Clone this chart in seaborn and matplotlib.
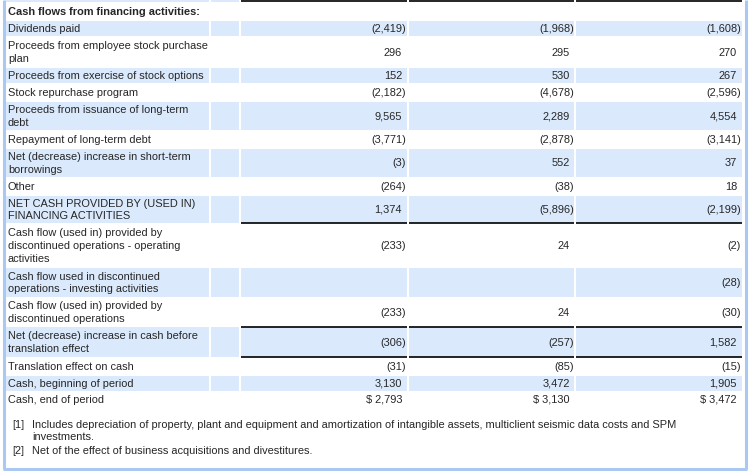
import numpy as np
import matplotlib
matplotlib.use("Agg")
import matplotlib.pyplot as plt
import seaborn as sns

# Satır etiketləri
labels = [
    "Dividends paid",
    "Proceeds from employee stock purchase\nplan",
    "Proceeds from exercise of stock options",
    "Stock repurchase program",
    "Proceeds from issuance of long-term\ndebt",
    "Repayment of long-term debt",
    "Net (decrease) increase in short-term\nborrowings",
    "Other",
    "NET CASH PROVIDED BY (USED IN)\nFINANCING ACTIVITIES",
    "Cash flow (used in) provided by\ndiscontinued operations - operating\nactivities",
    "Cash flow used in discontinued\noperations - investing activities",
    "Cash flow (used in) provided by\ndiscontinued operations",
    "Net (decrease) increase in cash before\ntranslation effect",
    "Translation effect on cash",
    "Cash, beginning of period",
    "Cash, end of period",
]

# Üç ilin dəyərləri
col1 = [-2419, 296, 152, -2182, 9565, -3771, -3, -264, 1374, -233, None, -233, -306, -31, 3130, 2793]
col2 = [-1968, 295, 530, -4678, 2289, -2878, 552, -38, -5896, 24, None, 24, -257, -85, 3472, 3130]
col3 = [-1608, 270, 267, -2596, 4554, -3141, 37, 18, -2199, -2, -28, -30, 1582, -15, 1905, 3472]

header = "Cash flows from financing activities:"
footnote_marks = ["[1]", "[2]"]
footnote_texts = [
    "Includes depreciation of property, plant and equipment and amortization of intangible assets, multiclient seismic data costs and SPM\ninvestments.",
    "Net of the effect of business acquisitions and divestitures.",
]

# Sətir sərhədləri (piksel)
row_edges = [21, 36, 68, 83, 102, 130, 149, 177, 196, 223, 268, 297, 327, 357, 376, 391, 408]
# Sütun sərhədləri
col_edges = [(6, 209), (211, 239), (241, 407), (409, 574), (576, 742)]
num_right = [402, 570, 737]
underline_after = [8, 11, 12]

blue = "#daeafc"
border = "#abc8f3"

sns.set_theme(style="white")
plt.rcParams["font.family"] = ["Liberation Sans", "DejaVu Sans"]

fig = plt.figure(figsize=(7.5, 4.74), dpi=100)
ax = fig.add_axes([0, 0, 1, 1])
ax.set_xlim(0, 750)
ax.set_ylim(474, 0)
ax.axis("off")


def fmt(v, last=False):
    if v is None:
        return ""
    s = f"({abs(v):,})" if v < 0 else f"{v:,}"
    if last:
        s = "$ " + s
    return s


fs = 7.9
ls = 1.36
tops = np.array(row_edges[:-1])
bottoms = np.array(row_edges[1:])
centers = (tops + bottoms) / 2
heights = bottoms - tops

# Mavi zolaqlar
for i in range(len(labels)):
    if i % 2 == 0:
        for (x0, x1) in col_edges:
            ax.barh(centers[i], x1 - x0, left=x0, height=heights[i], color=blue, linewidth=0)

# Yuxarıdakı kəsilmiş sətir
for (x0, x1) in col_edges[:2]:
    ax.barh(1, x1 - x0, left=x0, height=2.5, color=blue, linewidth=0)

ax.text(8, 12, header, fontsize=fs, fontweight="bold", va="center", ha="left")

cols = [col1, col2, col3]
for i, lab in enumerate(labels):
    ax.text(8, centers[i] + 0.5, lab, fontsize=fs, va="center", ha="left", linespacing=ls)
    for j, col in enumerate(cols):
        v = col[i]
        s = fmt(v, last=(i == len(labels) - 1))
        x = num_right[j] + (4 if (v is not None and v < 0) else 0)
        ax.text(x, centers[i] + 0.5, s, fontsize=fs, va="center", ha="right")

# Alt xətlər
for y in [1] + [bottoms[k] for k in underline_after]:
    for (x0, x1) in col_edges[2:]:
        ax.plot([x0, x1], [y, y], color="black", lw=1.2, solid_capstyle="butt")

# Qeydlər
for mark, txt, y in zip(footnote_marks, footnote_texts, [419.5, 445.5]):
    ax.text(12, y, mark, fontsize=fs, va="top", ha="left")
    ax.text(32, y, txt, fontsize=fs, va="top", ha="left", linespacing=ls)

# Çərçivə
ax.plot([4, 4], [0, 468.5], color=border, lw=2.2, solid_capstyle="butt")
ax.plot([745.5, 745.5], [0, 468.5], color=border, lw=2.2, solid_capstyle="butt")
ax.plot([3, 747], [468.5, 468.5], color=border, lw=2.2, solid_capstyle="butt")

fig.savefig("out.png", dpi=100)
